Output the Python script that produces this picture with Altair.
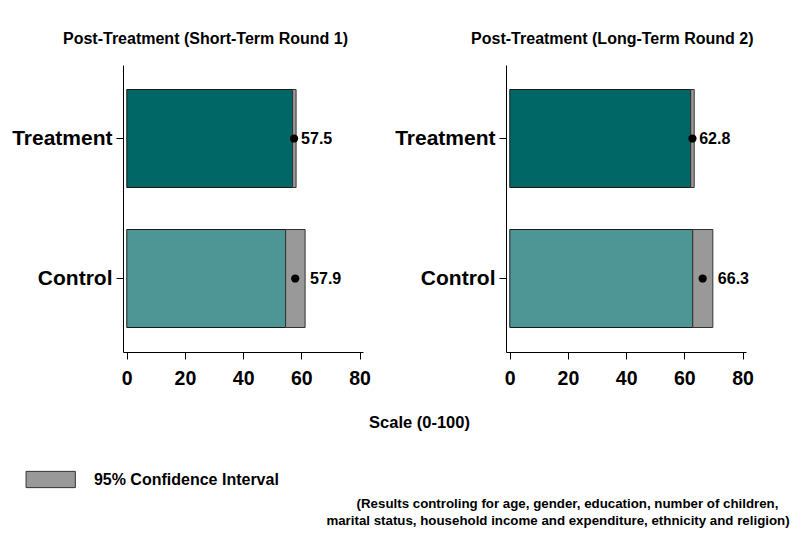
import altair as alt
import pandas as pd

FONT = "Liberation Sans"

groups = ["Treatment", "Control"]
ci_label = "95% Confidence Interval"

# Round 1 (short-term)
r1_mean = [57.5, 57.9]
r1_lo = [57.0, 54.6]
r1_hi = [58.2, 61.3]
# Round 2 (long-term)
r2_mean = [62.8, 66.3]
r2_lo = [62.2, 62.9]
r2_hi = [63.4, 69.8]

titles = ["Post-Treatment (Short-Term Round 1)", "Post-Treatment (Long-Term Round 2)"]
x_ticks = [0, 20, 40, 60, 80]
x_title = "Scale (0-100)"
note_lines = [
    "(Results controling for age, gender, education, number of children,",
    "marital status, household income and expenditure, ethnicity and religion)",
]
bar_colors = ["#006666", "#4e9696"]
ci_color = "#999999"

W, H = 240, 287


def panel(mean, lo, hi, title, title_dx, with_legend):
    df = pd.DataFrame({
        "group": groups, "mean": mean, "lo": lo, "hi": hi,
        "ci": [ci_label] * len(groups),
        "label": [f"{m:.1f}" for m in mean],
    })
    base = alt.Chart(df).transform_calculate(zero="0")
    y = alt.Y("group:N", sort=groups,
              scale=alt.Scale(paddingInner=0.3, paddingOuter=0.175),
              axis=alt.Axis(title=None, labelFontSize=21, labelPadding=4,
                            tickSize=7, labelFont=FONT, labelFontWeight="bold",
                            labelColor="black", tickColor="black",
                            domainColor="black", grid=False))
    xscale = alt.Scale(domain=[-1.3, 81.2], nice=False, zero=False)
    xaxis = alt.Axis(values=x_ticks, title=None, labelFontSize=19.5,
                     labelPadding=10, tickSize=7, labelFont=FONT,
                     labelFontWeight="bold", labelColor="black",
                     tickColor="black", domainColor="black", grid=False)
    teal = base.mark_bar(stroke="#1a1a1a", strokeWidth=1).encode(
        x=alt.X("zero:Q", scale=xscale, axis=xaxis),
        x2="lo:Q",
        y=y,
        color=alt.Color("group:N", scale=alt.Scale(domain=groups, range=bar_colors), legend=None),
    )
    if with_legend:
        fill = alt.Fill("ci:N", scale=alt.Scale(domain=[ci_label], range=[ci_color]),
                        legend=alt.Legend(title=None, orient="none",
                                          legendX=25.7 - 123.5, legendY=389,
                                          symbolType="M-1,-0.33H1V0.33H-1Z",
                                          symbolSize=2430, symbolStrokeColor="#333333",
                                          symbolStrokeWidth=1, symbolOpacity=1,
                                          labelFontSize=16, labelFont=FONT,
                                          labelFontWeight="bold", labelColor="black",
                                          labelOffset=17.7, labelLimit=0, padding=0))
        ci = base.mark_bar(stroke="#333333", strokeWidth=1, opacity=1).encode(
            x="lo:Q", x2="hi:Q", y=y, fill=fill)
    else:
        ci = base.mark_bar(stroke="#333333", strokeWidth=1, fill=ci_color).encode(
            x="lo:Q", x2="hi:Q", y=y)
    dots = base.mark_point(filled=True, color="black", size=68, opacity=1).encode(
        x="mean:Q", y=y)
    labels = base.mark_text(align="left", baseline="middle", dx=5, fontSize=16,
                            fontWeight="bold", font=FONT, color="black").encode(
        x="hi:Q", y=y, text="label:N")
    layers = [teal, ci, dots, labels]
    if with_legend:
        txt = dict(font=FONT, fontWeight="bold", color="black", align="center", baseline="middle")
        layers.append(alt.Chart(pd.DataFrame({"t": [x_title]})).mark_text(fontSize=16.5, **txt).encode(
            text="t:N", x=alt.value(296.5), y=alt.value(358)))
        layers.append(alt.Chart(pd.DataFrame({"t": [note_lines[0]]})).mark_text(fontSize=13.3, **txt).encode(
            text="t:N", x=alt.value(444.5), y=alt.value(439)))
        layers.append(alt.Chart(pd.DataFrame({"t": [note_lines[1]]})).mark_text(fontSize=13.3, **txt).encode(
            text="t:N", x=alt.value(435), y=alt.value(456)))
    return alt.layer(*layers).properties(
        width=W, height=H,
        title=alt.TitleParams(title, fontSize=16, fontWeight="bold", font=FONT,
                              color="black", anchor="middle", frame="group",
                              dx=title_dx, offset=18),
    )


left = panel(r1_mean, r1_lo, r1_hi, titles[0], -37.5, True)
right = panel(r2_mean, r2_lo, r2_hi, titles[1], -13.7, False)

chart = alt.hconcat(left, right, spacing=143, bounds="flush").properties(
    padding={"left": 3, "top": 23, "right": 0, "bottom": 0},
    background="white",
).configure_view(stroke=None)

chart.save("out.html", embed_options={"renderer": "svg", "actions": False})
